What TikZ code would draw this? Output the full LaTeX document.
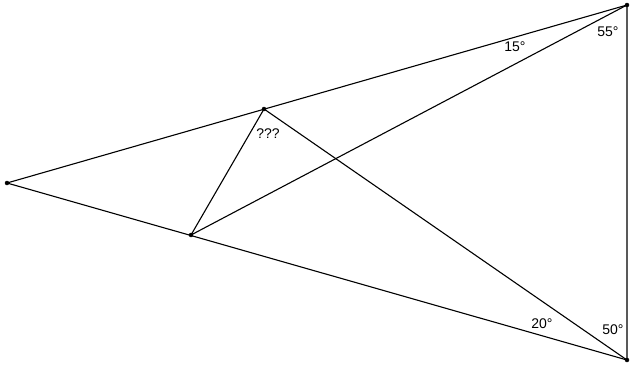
\documentclass[tikz,border=0pt]{standalone}
\usepackage{fontspec}
\setmainfont{Liberation Sans}
\usepackage{tikz}
\usetikzlibrary{calc}

\begin{document}
\begin{tikzpicture}[x=1pt, y=-1pt,
        edge/.style={black, line width=1.1pt},
        angle/.style={font=\fontsize{14}{16}\selectfont, inner sep=0pt}]
        \useasboundingbox (0,0) rectangle (632,380);

        % Vertices of the big triangle
        \coordinate (A) at (7,183);
        \coordinate (B) at (627,5);
        \coordinate (C) at (627,360);

        % Points on the two long sides
        \coordinate (D) at (264,109);
        \coordinate (E) at (191,235);

        % Big triangle
        \draw[edge] (A) -- (B) -- (C) -- cycle;

        % Inner segments
        \draw[edge] (D) -- (E);
        \draw[edge] (B) -- (E);
        \draw[edge] (D) -- (C);

        % Vertices
        \foreach \p in {A, B, C, D, E}
            \filldraw[black] (\p) circle (2);

        % Angle labels
        \node[angle] (a15) at (515,47) {15°};
        \node[angle] (a55) at (608,32) {55°};
        \node[angle] (a20) at (542,324) {20°};
        \node[angle] (a50) at (613,330) {50°};
        \node[angle] (qqq) at (268,134) {???};
    \end{tikzpicture}
\end{document}
